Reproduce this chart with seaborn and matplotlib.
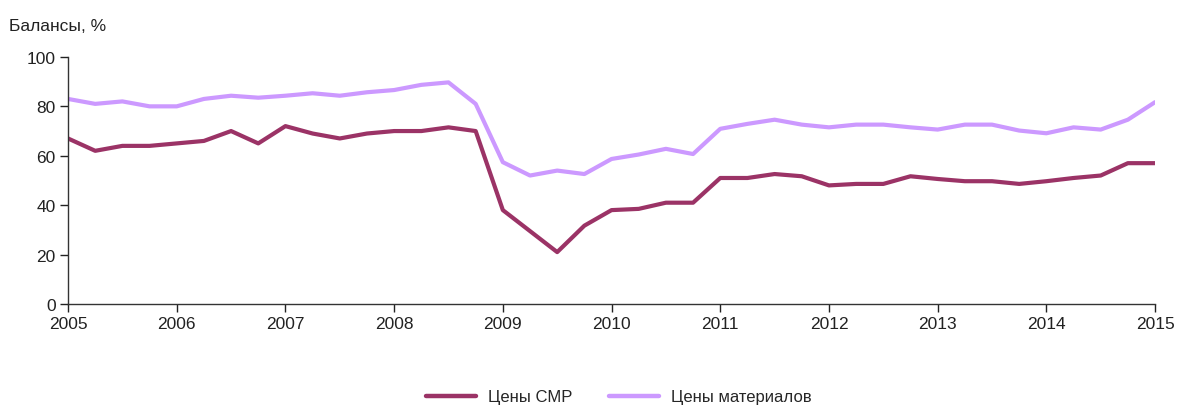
import matplotlib
matplotlib.use("Agg")
import matplotlib.pyplot as plt
import seaborn as sns
import pandas as pd
import numpy as np

# quarterly observations, 2005Q1 .. 2015Q1
years = np.arange(41) / 4 + 2005

cmr_prices = [67, 62, 64, 64, 65, 66, 70, 65,
              72, 69, 67, 69, 70, 70, 71.5, 70,
              38, 29.5, 21, 31.7, 38, 38.5, 41, 41,
              51, 51, 52.6, 51.7, 48, 48.6, 48.6, 51.7,
              50.6, 49.7, 49.7, 48.6, 49.7, 51, 52, 57, 57]
material_prices = [83, 81, 82, 80, 80, 83, 84.3, 83.5,
                   84.3, 85.3, 84.3, 85.7, 86.6, 88.7, 89.7, 81,
                   57.4, 52, 54, 52.6, 58.7, 60.5, 62.8, 60.7,
                   70.9, 72.9, 74.6, 72.6, 71.5, 72.6, 72.6, 71.5,
                   70.6, 72.6, 72.6, 70.2, 69.1, 71.5, 70.6, 74.6, 81.7]

series_names = ["Цены СМР", "Цены материалов"]
x_ticks = list(range(2005, 2016))
y_ticks = [0, 20, 40, 60, 80, 100]

df = pd.DataFrame({
    "year": np.concatenate([years, years]),
    "value": cmr_prices + material_prices,
    "series": [series_names[0]] * len(years) + [series_names[1]] * len(years),
})

sns.set_theme(style="white")
plt.rcParams["font.family"] = ["Liberation Sans Narrow", "Liberation Sans", "DejaVu Sans"]

fig = plt.figure(figsize=(11.79, 4.06), dpi=100)
ax = fig.add_axes([0.0577, 0.2488, 0.922, 0.6085])

palette = {series_names[0]: "#9b3366", series_names[1]: "#cc99ff"}
sns.lineplot(data=df, x="year", y="value", hue="series", palette=palette,
             linewidth=3.0, ax=ax, legend=False)

ax.set_xlim(2005, 2015)
ax.set_ylim(0, 100)
ax.set_xticks(x_ticks)
ax.set_yticks(y_ticks)
ax.set_xlabel("")
ax.set_ylabel("")
ax.tick_params(axis="both", labelsize=12.5, colors="#222222", direction="out",
               length=6, width=1, bottom=True, left=True, pad=3)
for side in ["top", "right"]:
    ax.spines[side].set_visible(False)
for side in ["left", "bottom"]:
    ax.spines[side].set_color("#333333")
    ax.spines[side].set_linewidth(1)

fig.text(0.008, 0.935, "Балансы, %", fontsize=12.5, color="#222222", va="center")

handles = [plt.Line2D([], [], color=palette[n], linewidth=3.2) for n in series_names]
fig.legend(handles, series_names, loc="center", bbox_to_anchor=(0.525, 0.02),
           ncol=2, frameon=False, fontsize=12, handlelength=3.0,
           columnspacing=2.2, handletextpad=0.7)

fig.savefig("out.png", dpi=100)
